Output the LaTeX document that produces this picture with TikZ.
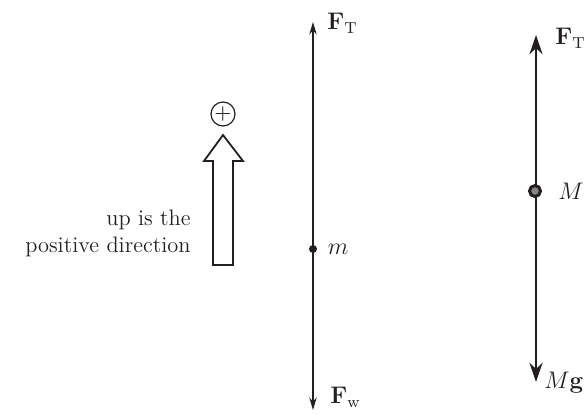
\documentclass[tikz,border=0pt]{standalone}
\usepackage{amsmath}
\usetikzlibrary{arrows.meta,positioning}
\definecolor{inkdark}{HTML}{231F20}
\tikzset{
  >=Stealth,
  thinforce/.style={{Stealth[length=2.2mm,width=1.3mm]}-{Stealth[length=2.2mm,width=1.3mm]}, line width=0.6pt, draw=inkdark},
  boldforce/.style={{Stealth[length=3.4mm,width=2.3mm]}-{Stealth[length=3.4mm,width=2.3mm]}, line width=1.1pt, draw=inkdark},
  flabel/.style={font=\fontsize{12}{14}\selectfont, text=inkdark, inner sep=0pt},
  caption/.style={font=\fontsize{11.2}{13.5}\selectfont, text=inkdark, align=right, inner sep=0pt},
  masspt/.style={circle, fill=inkdark, inner sep=0pt, minimum size=4pt},
  ringpt/.style={circle, draw=inkdark, fill=inkdark!55, line width=1.5pt, inner sep=0pt, minimum size=5.5pt},
  signbox/.style={circle, draw=inkdark, line width=0.6pt, minimum size=12pt, inner sep=0pt, font=\fontsize{11}{13}\selectfont},
  hollow/.style={draw=inkdark, line width=0.9pt, fill=white, line join=miter}
}

\begin{document}
\begin{tikzpicture}[x=0.5pt, y=-0.5pt, node distance=4pt]
\useasboundingbox (0,0) rectangle (587,414);
% direction hint
\node[signbox] (plus) at (223,114) {$+$};
\draw[hollow] (213,265) -- (213,161) -- (204,161) -- (223,135) -- (243,161)
  -- (233,161) -- (233,265) -- cycle;
\node[caption, anchor=east] (hint) at (191,233) {up is the\\positive direction};
% mass m
\coordinate (mtop) at (313,22);
\coordinate (mbot) at (313,410);
\draw[thinforce] (mbot) -- (mtop);
\node[masspt] (m) at (313,249) {};
\node[flabel, right=5pt of m] (mlab) {$m$};
\node[flabel, anchor=west] (ftm) at (327,23) {$\mathbf{F}_{\mathrm{T}}$};
\node[flabel, anchor=west] (fwm) at (330,397) {$\mathbf{F}_{\mathrm{w}}$};
% mass M
\coordinate (Mtop) at (536,35);
\coordinate (Mbot) at (536,382);
\draw[boldforce] (Mbot) -- (Mtop);
\node[ringpt] (M) at (535,191) {};
\node[flabel, right=8pt of M] (Mlab) {$M$};
\node[flabel, anchor=west] (ftM) at (555,38) {$\mathbf{F}_{\mathrm{T}}$};
\node[flabel, anchor=east] (Mg) at (584,383) {$M\mathbf{g}$};
\end{tikzpicture}
\end{document}
